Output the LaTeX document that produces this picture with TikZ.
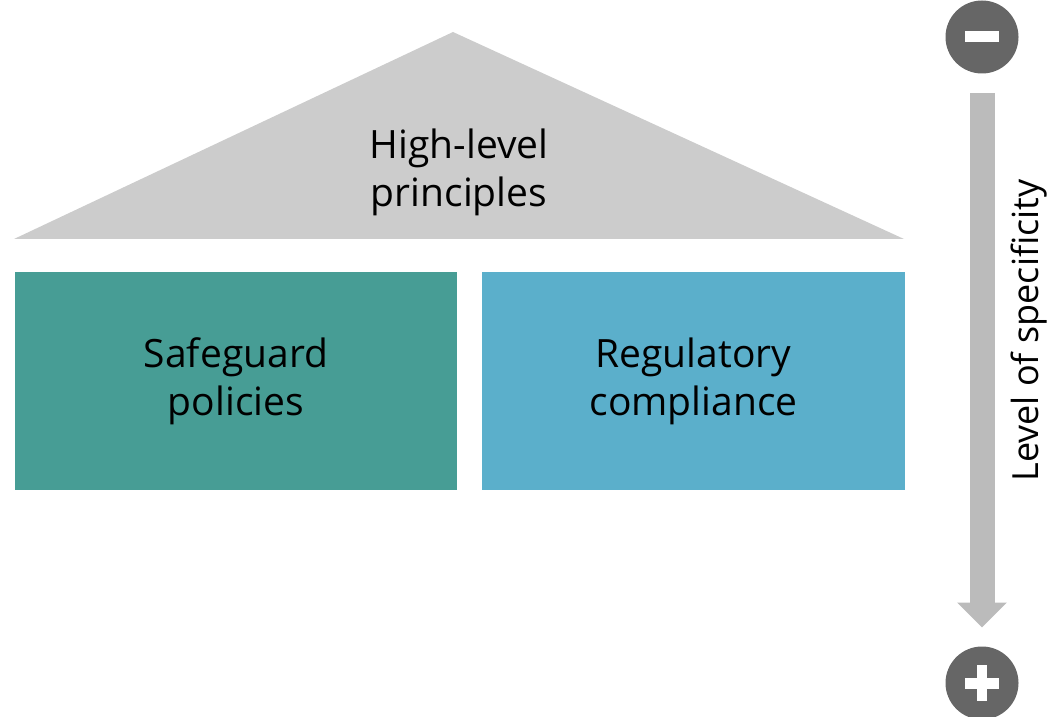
\documentclass[tikz,border=0pt]{standalone}
\usepackage{fontspec}
\setmainfont{Open Sans}
\usetikzlibrary{positioning,arrows.meta}
\definecolor{roofgray}{HTML}{CCCCCC}
\definecolor{safeteal}{HTML}{479D95}
\definecolor{regblue}{HTML}{5BAFCB}
\definecolor{signgray}{HTML}{666666}
\definecolor{arrowgray}{HTML}{BBBBBB}
\begin{document}
\begin{tikzpicture}[x=1pt, y=1pt, >={Triangle[width=48pt,length=25pt]},
	every pillar/.style={minimum height=218pt, inner sep=0pt, outer sep=0pt, align=center,
		font=\fontsize{39}{48}\selectfont},
	every sign/.style={circle, fill=signgray, minimum size=73pt, inner sep=0pt, outer sep=0pt}]
		
		\useasboundingbox (0,0) rectangle (1052,716);
		
		% roof
		\fill [roofgray] (14,477) -- (453,684) -- (904,477) -- cycle;
		\node [align=center, font=\fontsize{39}{48}\selectfont] (roof) at (459,544) {High-level\\principles};
		
		% pillars
		\node [every pillar, fill=safeteal, minimum width=442pt] (safeguard) at (236,335) {Safeguard\\policies};
		\node [every pillar, fill=regblue, minimum width=423pt, right=25pt of safeguard] (regulatory) {Regulatory\\compliance};
		
		% specificity scale
		\node [every sign] (minus) at (982,679) {};
		\node [every sign] (plus) at (982,33) {};
		\fill [white] ([xshift=-17pt, yshift=-5.5pt]minus.center) rectangle ([xshift=17pt, yshift=5.5pt]minus.center);
		\fill [white] ([xshift=-17pt, yshift=-5.5pt]plus.center) rectangle ([xshift=17pt, yshift=5.5pt]plus.center);
		\fill [white] ([xshift=-5pt, yshift=-18pt]plus.center) rectangle ([xshift=5pt, yshift=18pt]plus.center);
		
		\draw [->, arrowgray, line width=25pt, shorten <=19.5pt, shorten >=19pt] (minus) -- (plus);
		\node [rotate=90, anchor=base, font=\fontsize{36}{40}\selectfont] (level) at (1038,385.5) {Level of specificity};

\end{tikzpicture}
\end{document}
